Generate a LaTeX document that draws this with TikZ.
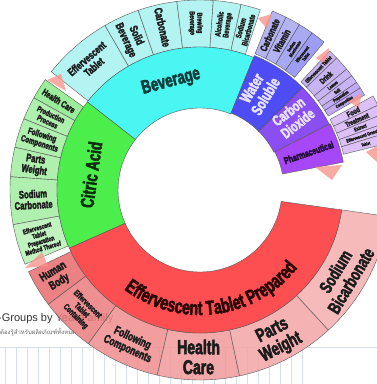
\documentclass[tikz,border=0pt]{standalone}
\usepackage{fontspec}
\setmainfont{Liberation Sans}
\newfontfamily\thaifont[Script=Thai]{Loma}
\newfontfamily\chartfont[FakeStretch=0.7,BoldFeatures={FakeBold=2.5}]{Liberation Sans}
\usepackage{xcolor}
\usepackage{tikz}
\usetikzlibrary{decorations.text}

\definecolor{bevfill}{HTML}{4AF6F2}
\definecolor{bevkind}{HTML}{A6F1EF}
\definecolor{bevtext}{HTML}{103C3B}
\definecolor{citfill}{HTML}{4CEE4C}
\definecolor{citkindA}{HTML}{8AE98A}
\definecolor{citkindB}{HTML}{A2EEA2}
\definecolor{cittext}{HTML}{0D2E0D}
\definecolor{redfill}{HTML}{FD4F51}
\definecolor{redkindA}{HTML}{E86C6E}
\definecolor{redkindB}{HTML}{EC7C7E}
\definecolor{redkindC}{HTML}{F08E8F}
\definecolor{redkindD}{HTML}{F29A9B}
\definecolor{redkindE}{HTML}{F4A5A6}
\definecolor{redkindF}{HTML}{F5AFB0}
\definecolor{redtext}{HTML}{2A0606}
\definecolor{wsfill}{HTML}{4E4CF4}
\definecolor{wskind}{HTML}{A9A7F2}
\definecolor{cofill}{HTML}{8A4EF2}
\definecolor{cokind}{HTML}{BFA8F2}
\definecolor{phafill}{HTML}{A648F7}
\definecolor{phakind}{HTML}{D8B6F6}
\definecolor{phatext}{HTML}{1E0830}
\definecolor{hell}{HTML}{E8E4FF}
\definecolor{ink}{HTML}{1C1C1C}
\definecolor{zeigerrot}{HTML}{F7958C}
\definecolor{gitterblau}{HTML}{D3DFEE}

% Ringsegment: Stil, Winkel von, Winkel bis, Radius innen, Radius aussen
\newcommand{\ringteil}[5]{\filldraw[#1] (#2:#4) arc[start angle=#2,end angle=#3,radius=#4] -- (#3:#5) arc[start angle=#3,end angle=#2,radius=#5] -- cycle;}
\newcommand{\schrift}[1]{\fontsize{#1}{#1}\selectfont}

\begin{document}
\begin{tikzpicture}[x=1pt, y=1pt,
    teil/.style={draw=black!65, line width=0.4pt},
    kind/.style={teil, fill opacity=0.85},
    lbl/.style={font=\chartfont\bfseries\schrift{#1}, align=center, inner sep=0pt, text=ink},
    zeiger/.style={fill=zeigerrot, fill opacity=0.8},
    gitter/.style={draw=gitterblau, line width=0.5pt}]

    \useasboundingbox (-200,-194) rectangle (177,190);
    \clip (-200,-194) rectangle (177,190);
    \fill[white] (-200,-194) rectangle (177,190);

    % Hintergrund
    \node (titel) at (-202,-131) [anchor=base west, inner sep=0pt, font=\schrift{11}, text=black!80] {-Groups by Year Family};
    \node (untertitel) at (-200,-144) [anchor=base west, inner sep=0pt, font=\thaifont\schrift{6}, text=black!60] {ต้องรู้สำหรับผลิตภัณฑ์ทั้งหมด};
    \draw[gitter] (-200,-157) -- (177,-157);
    \foreach \k in {0,...,27}
        \draw[gitter] (-195+11*\k,-157) -- (-195+11*\k,-194);

    % Aeusserer Ring: Beverage
    \ringteil{kind, fill=bevkind}{120}{141.5}{143}{190}
    \ringteil{kind, fill=bevkind}{109}{120}{143}{190}
    \ringteil{kind, fill=bevkind}{97}{109}{143}{190}
    \ringteil{kind, fill=bevkind}{86}{97}{143}{190}
    \ringteil{kind, fill=bevkind}{77.5}{86}{143}{190}
    \ringteil{kind, fill=bevkind}{71.5}{77.5}{143}{190}

    % Aeusserer Ring: Citric Acid
    \ringteil{kind, fill=citkindA}{144.5}{151}{143}{190}
    \ringteil{kind, fill=citkindB}{151}{158}{143}{190}
    \ringteil{kind, fill=citkindB}{158}{167}{143}{190}
    \ringteil{kind, fill=citkindB}{167}{176}{143}{190}
    \ringteil{kind, fill=citkindB}{176}{190.5}{143}{190}
    \ringteil{kind, fill=citkindB!80!white}{190.5}{203}{143}{190}

    % Aeusserer Ring: Effervescent Tablet Prepared
    \ringteil{kind, fill=redkindA}{205.5}{217}{143}{190}
    \ringteil{kind, fill=redkindB}{217}{234}{143}{190}
    \ringteil{kind, fill=redkindC}{234}{257}{143}{190}
    \ringteil{kind, fill=redkindD}{257}{282}{143}{190}
    \ringteil{kind, fill=redkindE}{282}{312.5}{143}{190}
    \ringteil{kind, fill=redkindF}{312.5}{352}{143}{190}

    % Aeusserer Ring: violette Gruppe
    \ringteil{kind, fill=wskind}{63.5}{68}{147}{193}
    \ringteil{kind, fill=wskind}{59}{63.5}{147}{193}
    \ringteil{kind, fill=wskind!85!wsfill}{54.5}{59}{147}{193}
    \ringteil{kind, fill=wskind!70!wsfill}{50}{54.5}{147}{193}
    \ringteil{kind, fill=cokind}{44}{47}{148}{190}
    \ringteil{kind, fill=cokind}{39.5}{44}{148}{190}
    \ringteil{kind, fill=cokind}{37}{39.5}{148}{190}
    \ringteil{kind, fill=cokind}{34.5}{37}{148}{190}
    \ringteil{kind, fill=cokind!85!cofill}{32.5}{34.5}{148}{190}
    \ringteil{kind, fill=cokind!85!cofill}{30}{32.5}{148}{190}
    \ringteil{kind, fill=phakind}{25.5}{28.5}{148}{197}
    \ringteil{kind, fill=phakind}{22.6}{25.5}{148}{197}
    \ringteil{kind, fill=phakind}{19.9}{22.6}{148}{197}
    \ringteil{kind, fill=phakind}{17}{19.9}{148}{197}
    \ringteil{kind, fill=phakind}{14}{17}{148}{197}

    % Innerer Ring
    \ringteil{teil, fill=bevfill}{68}{142}{82}{143}
    \ringteil{teil, fill=citfill}{142}{204}{82}{143}
    \ringteil{teil, fill=redfill}{204}{352}{82}{143}
    \ringteil{teil, fill=wsfill}{45}{68}{83}{145}
    \ringteil{teil, fill=cofill}{27}{45}{83}{145}
    \ringteil{teil, fill=phafill}{11}{27}{84}{146}

    % Markierungen
    \fill[zeiger] (-153,110) -- (-139,116) -- (-134,99) -- cycle;
    \fill[zeiger] (-175,-78) -- (-158,-62) -- (-152,-76) -- cycle;
    \fill[zeiger] (58,172) -- (72,176) -- (67,161) -- cycle;
    \fill[zeiger] (116,132) -- (129,142) -- (127,125) -- cycle;
    \fill[zeiger] (148,89) -- (162,97) -- (159,82) -- cycle;
    \fill[zeiger] (115,23) -- (142,25) -- (132,10) -- cycle;
    \fill[zeiger] (166,38) -- (177,44) -- (177,28) -- cycle;

    % Beschriftung innen
    \node (bev) at (105:112) [lbl=19, rotate=15, text=bevtext] {Beverage};
    \node (cit) at (172:110) [lbl=19, rotate=82, text=cittext] {Citric Acid};
    \node (ws) at (59:114) [lbl=16, rotate=59, text=hell] {Water\\Soluble};
    \node (co2) at (38:118) [lbl=15, rotate=38, text=hell] {Carbon\\Dioxide};
    \node (pha) at (19:115) [lbl=10, rotate=19, text=phatext] {Pharmaceutical};
    \path[decorate, decoration={text along path, text align=center, text color=redtext,
        text={|\chartfont\bfseries\schrift{20}|Effervescent Tablet Prepared}}]
        (200:125) arc[start angle=200, end angle=354, radius=125];

    % Beschriftung Beverage
    \node (bevEff) at (130.75:168) [lbl=11, rotate=40.75] {Effervescent\\Tablet};
    \node (bevSol) at (114.5:167) [lbl=11.5, rotate=-65.5] {Solid\\Beverage};
    \node (bevCarb) at (103:167) [lbl=11.5, rotate=-77] {Carbonate};
    \node (bevBrew) at (91.5:167) [lbl=7.5, rotate=-88.5] {Brewing\\Beverage};
    \node (bevAlk) at (81.75:167) [lbl=8, rotate=81.75] {Alcoholic\\Beverage};
    \node (bevNat) at (74.5:167) [lbl=8, rotate=74.5] {Sodium\\Bicarbonate};

    % Beschriftung Citric Acid
    \node (citHC) at (147.75:167) [lbl=9.5, rotate=-32.25] {Health Care};
    \node (citPP) at (154.5:167) [lbl=8, rotate=-25.5] {Production\\Process};
    \node (citFC) at (162.5:167) [lbl=9, rotate=-17.5] {Following\\Components};
    \node (citPW) at (171.5:167) [lbl=11, rotate=-8.5] {Parts\\Weight};
    \node (citSC) at (183.25:167) [lbl=11, rotate=3.25] {Sodium\\Carbonate};
    \node (citEP) at (196.75:167) [lbl=7, rotate=16.75] {Effervescent\\Tablet\\Preparation\\Method Thereof};

    % Beschriftung Effervescent Tablet Prepared
    \node (redHB) at (211.25:168) [lbl=12, rotate=31.25] {Human\\Body};
    \node (redEC) at (225.5:169) [lbl=8.5, rotate=-44.5] {Effervescent\\Tablet\\Containing};
    \node (redFC) at (245.5:169) [lbl=12, rotate=-24.5] {Following\\Components};
    \node (redHC) at (269.5:167) [lbl=20, rotate=-0.5] {Health\\Care};
    \node (redPW) at (297.25:168) [lbl=19, rotate=27.25] {Parts\\Weight};
    \node (redSB) at (329:167) [lbl=18, rotate=59] {Sodium\\Bicarbonate};

    % Beschriftung violette Gruppe
    \node (wsCarb) at (65.75:170) [lbl=10, rotate=65.75] {Carbonate};
    \node (wsVit) at (61.25:170) [lbl=10, rotate=61.25] {Vitamin};
    \node (wsNat) at (56.75:170) [lbl=4.5, rotate=56.75] {Sodium\\Bicarbonate};
    \node (wsEff) at (52.25:170) [lbl=4.5, rotate=52.25] {Effervescent\\Tablet};
    \node (coEff) at (45.5:169) [lbl=5.5, rotate=45.5] {Effervescent Tablet};
    \node (coDr) at (41.75:169) [lbl=8, rotate=41.75] {Drink};
    \node (coLe) at (38.25:169) [lbl=5, rotate=38.25] {Lemon};
    \node (coSa) at (35.75:169) [lbl=5, rotate=35.75] {Salt};
    \node (coPr) at (33.5:169) [lbl=4.5, rotate=33.5] {Preparation};
    \node (coCo) at (31.25:169) [lbl=4.5, rotate=31.25] {Composition};
    \node (phFo) at (27:172) [lbl=8, rotate=27] {Food};
    \node (phTr) at (24:172) [lbl=7.5, rotate=24] {Treatment};
    \node (phEx) at (21.25:172) [lbl=5.5, rotate=21.25] {Extract};
    \node (phEG) at (18.45:172) [lbl=5, rotate=18.45] {Effervescent Granule};
    \node (phTa) at (15.5:172) [lbl=4.5, rotate=15.5] {Tablet};
\end{tikzpicture}
\end{document}
